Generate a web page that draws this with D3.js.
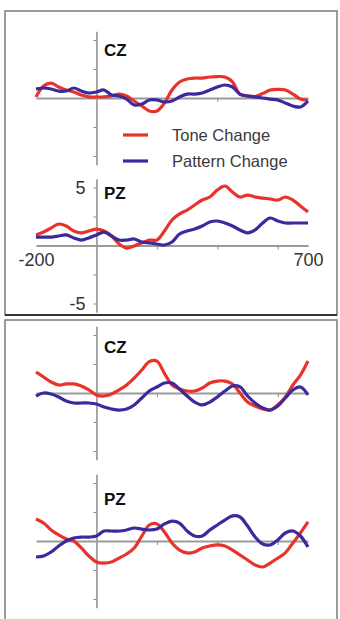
<!DOCTYPE html>
<html>
<head>
<meta charset="utf-8">
<script src="https://cdn.jsdelivr.net/npm/d3@7"></script>
<style>
    body { margin: 0; background: #fff; }
    text { font-family: "Liberation Sans", Arial, sans-serif; }
</style>
</head>
<body>
<div id="erp"></div>
<script>
// time points (ms) shared by every trace
var times = [-200, -175, -150, -125, -100, -75, -50, -25, 0, 25, 50, 75, 100, 125, 150, 175, 200, 225, 250,
    275, 300, 325, 350, 375, 400, 425, 450, 475, 500, 525, 550, 575, 600, 625, 650, 675, 700];

// amplitudes in microvolts
var topCzTone = [0.09, 1.03, 1.29, 0.95, 0.69, 0.52, 0.26, 0.09, 0.09, 0.09, 0.17, 0.34, 0.17, -0.26, -0.69, -1.12, -1.12, -0.43, 0.69,
    1.38, 1.64, 1.72, 1.72, 1.81, 1.85, 1.81, 1.4, 0.3, 0.17, 0.13, 0.38, 0.69, 0.74, 0.69, 0.34, -0.09, -0.2];
var topCzPattern = [0.78, 0.86, 0.78, 0.6, 0.6, 0.86, 0.6, 0.43, 0.52, 0.69, 0.26, 0.17, -0.09, -0.6, -0.52, -0.17, -0.17, -0.34, -0.26,
    0.09, 0.34, 0.34, 0.43, 0.69, 0.95, 1.12, 0.95, 0.34, 0.17, 0.09, 0, -0.09, -0.17, -0.43, -0.69, -0.78, -0.26];
var topPzTone = [0.91, 1.16, 1.51, 1.85, 1.68, 1.25, 1.08, 1.25, 1.42, 1.25, 0.82, 0.13, -0.22, -0.04, 0.22, 0.47, 0.47, 1.25, 2.2,
    2.72, 3.06, 3.49, 3.92, 4.18, 4.78, 5.13, 4.61, 4.18, 4.35, 4.18, 4.09, 4.01, 3.92, 4.18, 3.92, 3.41, 2.89];
var topPzPattern = [0.73, 0.73, 0.73, 0.82, 0.91, 0.65, 0.47, 0.65, 0.91, 1.16, 0.82, 0.47, 0.47, 0.56, 0.3, 0.22, 0.13, 0.04, 0.3,
    0.99, 1.25, 1.42, 1.68, 2.03, 2.11, 1.94, 1.68, 1.34, 1.08, 1.34, 1.94, 2.37, 2.11, 1.94, 1.94, 1.94, 1.94];
var bottomCzTone = [1.81, 1.38, 0.95, 0.69, 0.78, 0.78, 0.6, 0.26, -0.17, -0.26, -0.09, 0.26, 0.69, 1.29, 1.98, 2.7, 2.75, 1.7, 0.69,
    0.34, 0.17, 0.17, 0.43, 0.86, 1.03, 1.03, 0.78, 0, -0.78, -1.12, -1.38, -1.47, -1.03, -0.34, 0.69, 1.55, 2.76];
var bottomCzPattern = [-0.26, 0, -0.09, -0.34, -0.69, -0.86, -0.86, -0.86, -0.95, -1.21, -1.38, -1.47, -1.38, -1.03, -0.43, 0.17, 0.52, 0.86, 0.86,
    0.34, -0.26, -0.78, -1.03, -0.78, -0.34, 0.17, 0.6, 0.52, -0.26, -0.86, -1.29, -1.47, -1.12, -0.43, 0.26, 0.52, -0.17];
var bottomPzTone = [1.9, 1.55, 0.95, 0.52, 0.17, 0, -0.6, -1.29, -1.81, -1.9, -1.81, -1.47, -1.12, -0.6, 0.43, 1.38, 1.47, 0.78, -0.17,
    -0.78, -1.03, -0.95, -0.6, -0.43, -0.34, -0.43, -0.78, -1.21, -1.64, -2.07, -2.24, -1.9, -1.47, -1.03, -0.17, 0.69, 1.64];
var bottomPzPattern = [-1.38, -1.29, -0.95, -0.43, 0, 0.26, 0.34, 0.34, 0.43, 0.86, 0.86, 0.86, 0.95, 1.12, 1.03, 0.95, 1.03, 1.47, 1.72,
    1.55, 0.86, 0.43, 0.43, 0.95, 1.38, 1.81, 2.16, 2.07, 1.29, 0.34, -0.26, -0.34, 0.09, 0.69, 0.86, 0.43, -0.52];

var seriesNames = ["Tone Change", "Pattern Change"];
var xTickLabels = [-200, 700];
var yTickLabels = [-5, 5];

var width = 340,
    height = 619,
    toneColor = "#e8332b",
    patternColor = "#3a2a9e",
    axisColor = "#8c8c8c";

// one entry per little plot: zero line position and label placement
var charts = [
    { name: "CZ", zeroY: 98, labelY: 56, tone: topCzTone, pattern: topCzPattern },
    { name: "PZ", zeroY: 245.5, labelY: 199, tone: topPzTone, pattern: topPzPattern, labels: true },
    { name: "CZ", zeroY: 393, labelY: 353, tone: bottomCzTone, pattern: bottomCzPattern },
    { name: "PZ", zeroY: 541, labelY: 505, tone: bottomPzTone, pattern: bottomPzPattern }
];

// plain hyphen for negatives, like the original figure
var plainNum = function (d) { return String(d); };

var svg = d3.select("#erp")
    .append("svg")
    .attr("width", width)
    .attr("height", height);

// panel frames
svg.append("rect")
    .attr("x", 5).attr("y", 11)
    .attr("width", 332).attr("height", 304)
    .attr("fill", "none")
    .attr("stroke", "#7a7a7a")
    .attr("stroke-width", 1.5);
svg.append("line")
    .attr("x1", 5).attr("x2", 337)
    .attr("y1", 315).attr("y2", 315)
    .attr("stroke", "#333")
    .attr("stroke-width", 2);
svg.append("rect")
    .attr("x", 5).attr("y", 320)
    .attr("width", 332).attr("height", 320)
    .attr("fill", "none")
    .attr("stroke", "#7a7a7a")
    .attr("stroke-width", 1.5);

var x = d3.scaleLinear()
    .domain([-200, 700])
    .range([36, 308]);

charts.forEach(function (c) {
    var y = d3.scaleLinear()
        .domain([-5.75, 5.75])
        .range([c.zeroY + 66.7, c.zeroY - 66.7]);

    var g = svg.append("g").attr("class", "chart");

    // vertical axis at t = 0
    var yAxis = g.append("g")
        .attr("transform", "translate(" + x(0) + ",0)")
        .call(d3.axisLeft(y).tickValues([-5, -2.5, 2.5, 5]).tickSize(3).tickSizeOuter(0).tickFormat(""));
    yAxis.select(".domain").attr("stroke", axisColor).attr("stroke-width", 1.5);
    yAxis.selectAll(".tick line").attr("stroke", axisColor);

    // zero line with small time ticks
    var xAxis = g.append("g")
        .attr("transform", "translate(0," + y(0) + ")")
        .call(d3.axisBottom(x).tickValues([200, 400, 600]).tickSize(4).tickSizeOuter(0).tickFormat(""));
    xAxis.select(".domain").attr("stroke", "#9a9a9a").attr("stroke-width", 2);
    xAxis.selectAll(".tick line").attr("stroke", axisColor);

    if (c.labels) {
        var xl = g.append("g")
            .attr("transform", "translate(0," + y(0) + ")")
            .call(d3.axisBottom(x).tickValues(xTickLabels).tickSize(0).tickPadding(8).tickFormat(plainNum));
        xl.select(".domain").remove();
        xl.selectAll("text")
            .style("font-size", "18px")
            .attr("fill", "#333");

        var yl = g.append("g")
            .attr("transform", "translate(" + x(0) + ",0)")
            .call(d3.axisLeft(y).tickValues(yTickLabels).tickSize(0).tickPadding(11).tickFormat(plainNum));
        yl.select(".domain").remove();
        yl.selectAll("text")
            .style("font-size", "18px")
            .attr("fill", "#333");
    }

    var line = d3.line()
        .x(function (d, i) { return x(times[i]); })
        .y(function (d) { return y(d); })
        .curve(d3.curveCatmullRom);

    g.append("path")
        .datum(c.tone)
        .attr("d", line)
        .attr("fill", "none")
        .attr("stroke", toneColor)
        .attr("stroke-width", 3.2)
        .attr("stroke-linejoin", "round");

    g.append("path")
        .datum(c.pattern)
        .attr("d", line)
        .attr("fill", "none")
        .attr("stroke", patternColor)
        .attr("stroke-width", 3.2)
        .attr("stroke-linejoin", "round");

    g.append("text")
        .attr("x", 104)
        .attr("y", c.labelY)
        .style("font-size", "17px")
        .style("font-weight", "bold")
        .attr("fill", "#111")
        .text(c.name);
});

// legend inside the top panel
var legend = svg.append("g")
    .selectAll(".legendItem")
    .data(seriesNames)
    .enter()
    .append("g")
    .attr("class", "legendItem")
    .attr("transform", function (d, i) { return "translate(0," + (135 + i * 26) + ")"; });

legend.append("line")
    .attr("x1", 123).attr("x2", 148)
    .attr("stroke", function (d, i) { return i === 0 ? toneColor : patternColor; })
    .attr("stroke-width", 3.2);

legend.append("text")
    .attr("x", 172)
    .attr("y", 5.5)
    .style("font-size", "16.5px")
    .attr("fill", "#3a3a3a")
    .text(function (d) { return d; });
</script>
</body>
</html>
